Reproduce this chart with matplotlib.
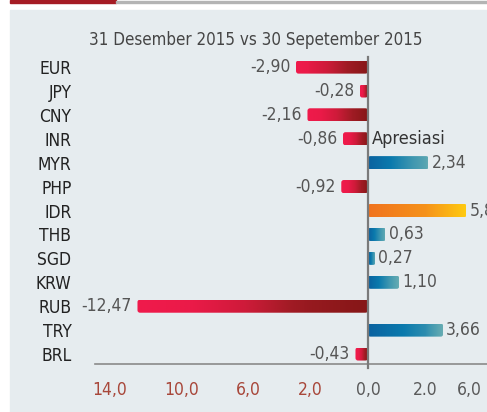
import numpy as np
import matplotlib
matplotlib.use('Agg')
import matplotlib.pyplot as plt
from matplotlib import font_manager as fm
from matplotlib.colors import LinearSegmentedColormap
from matplotlib.patches import FancyBboxPatch, Rectangle
from matplotlib.transforms import IdentityTransform

# data
currencies = ['EUR', 'JPY', 'CNY', 'INR', 'MYR', 'PHP', 'IDR',
              'THB', 'SGD', 'KRW', 'RUB', 'TRY', 'BRL']
changes = [-2.90, -0.28, -2.16, -0.86, 2.34, -0.92, 5.8,
           0.63, 0.27, 1.10, -12.47, 3.66, -0.43]
value_labels = ['-2,90', '-0,28', '-2,16', '-0,86', '2,34', '-0,92', '5,8',
                '0,63', '0,27', '1,10', '-12,47', '3,66', '-0,43']
tick_values = [-14, -10, -6, -2, 0, 2, 6]
tick_labels = ['14,0', '10,0', '6,0', '2,0', '0,0', '2.0', '6,0']
title = '31 Desember 2015 vs 30 Sepetember 2015'
highlight = 'IDR'

# the original uses a condensed face; take one if the system has it
narrow = [f for f in fm.fontManager.ttflist
          if f.stretch in ('condensed', 'semi-condensed', 'extra-condensed')
          and f.weight in (400, 'normal', 'regular') and f.style == 'normal']
if narrow:
    plt.rcParams['font.family'] = [narrow[0].name, 'DejaVu Sans']
    plt.rcParams['font.stretch'] = narrow[0].stretch
    fs = 1.0
else:
    plt.rcParams['font.family'] = ['Liberation Sans', 'DejaVu Sans']
    fs = 0.9

# the printed axis is not evenly spaced, so use a piecewise scale
knots_data = [-30, -14, -10, -6, -2, 0, 2, 6, 20]
knots_pos = [-546, -258, -186, -120, -58, 0, 57, 101, 255]


def fwd(x):
    return np.interp(x, knots_data, knots_pos)


def inv(p):
    return np.interp(p, knots_pos, knots_data)


W, H = 487, 412
fig = plt.figure(figsize=(W / 100, H / 100), dpi=100)
fig.patch.set_facecolor('white')

# background panel and top decoration
fig.add_artist(Rectangle((10 / W, 0), 477 / W, 402 / H, transform=fig.transFigure,
                         color='#e6ecef', zorder=0))
fig.add_artist(Rectangle((10 / W, 409 / H), 106 / W, 3 / H, transform=fig.transFigure,
                         color='#a51c24', zorder=1))
fig.add_artist(Rectangle((116 / W, 409 / H), 371 / W, 1.8 / H, transform=fig.transFigure,
                         color='#b4b4b4', zorder=1))

fig.text(256 / W, 1 - 40 / H, title, ha='center', va='center',
         fontsize=12.2 * fs, color='#454545')

ax = fig.add_axes([95 / W, 1 - 364 / H, (487 - 95) / W, (364 - 57) / H])
ax.set_facecolor('none')
ax.set_xscale('function', functions=(fwd, inv))
ax.set_xlim(-14.83, 7.64)
ax.set_ylim(12.42, -0.42)
ax.set_autoscale_on(False)

neg_cmap = LinearSegmentedColormap.from_list(
    'neg', ['#861717', '#a01b24', '#cf1b3a', '#ea1a48', '#f01a4c'])
pos_cmap = LinearSegmentedColormap.from_list(
    'pos', ['#0a62a0', '#0b7aad', '#3f97b0', '#6aaeb3'])
idr_cmap = LinearSegmentedColormap.from_list(
    'idr', ['#f0731f', '#f8a018', '#ffcc10'])

bar_h = 0.55
ypos = np.arange(len(currencies))
bars = ax.barh(ypos, changes, height=bar_h, color='none')
grad = np.linspace(0, 1, 256).reshape(1, -1)

for i, (cur, v, bar) in enumerate(zip(currencies, changes, bars)):
    lo, hi = min(0, v), max(0, v)
    (px0, py0), (px1, py1) = ax.transData.transform([(lo, i - bar_h / 2), (hi, i + bar_h / 2)])
    x0, x1 = sorted([px0, px1])
    y0, y1 = sorted([py0, py1])
    clip = FancyBboxPatch((x0, y0), x1 - x0, y1 - y0,
                          boxstyle='round,pad=0,rounding_size=2.5',
                          transform=IdentityTransform())
    if v < 0:
        cmap, g = neg_cmap, grad[:, ::-1]
    elif cur == highlight:
        cmap, g = idr_cmap, grad
    else:
        cmap, g = pos_cmap, grad
    im = ax.imshow(g, extent=[lo, hi, i + bar_h / 2, i - bar_h / 2], aspect='auto',
                   cmap=cmap, interpolation='bilinear', zorder=2)
    im.set_clip_path(clip)

    ax.annotate(value_labels[i], xy=(v, i), xytext=(-4 if v < 0 else 2, 0),
                textcoords='offset points', ha='right' if v < 0 else 'left',
                va='center', fontsize=12.5 * fs, color='#555555', annotation_clip=False)

ax.set_xlim(-14.83, 7.64)
ax.set_ylim(12.42, -0.42)

ax.annotate('Apresiasi', xy=(0, 3), xytext=(3, 0), textcoords='offset points',
            ha='left', va='center', fontsize=13 * fs, color='#333333')

ax.axvline(0, ymin=-0.013, ymax=1, color='#7a7a7a', lw=1.6, clip_on=False, zorder=3)

ax.set_yticks(ypos)
ax.set_yticklabels(currencies, fontsize=12.5 * fs, color='#222222')
ax.set_xticks(tick_values)
ax.set_xticklabels(tick_labels, fontsize=12.5 * fs)
for v, lab in zip(tick_values, ax.get_xticklabels()):
    lab.set_color('#a8473a' if v < 0 else '#5a5a5a')
ax.tick_params(axis='y', length=0, pad=17)
ax.tick_params(axis='x', length=0, pad=12)
ax.xaxis.set_minor_locator(matplotlib.ticker.NullLocator())

for s in ['top', 'right', 'left']:
    ax.spines[s].set_visible(False)
ax.spines['bottom'].set_color('#8a8a8a')
ax.spines['bottom'].set_linewidth(1.2)

fig.savefig('out.png', dpi=100)
